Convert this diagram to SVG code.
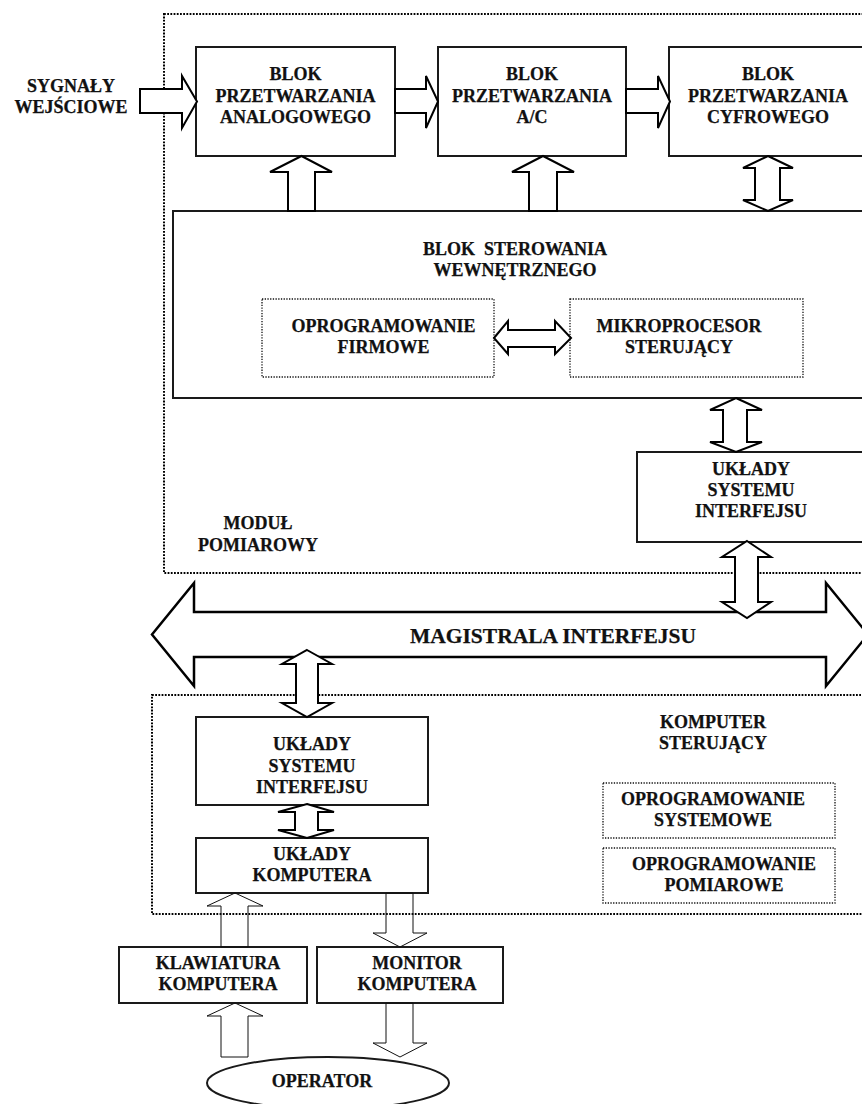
<svg xmlns="http://www.w3.org/2000/svg" width="862" height="1104" viewBox="0 0 862 1104">
  <style>
    .box { fill: #fff; stroke: #1a1a1a; stroke-width: 2; }
    .dot { fill: none; stroke: #000; stroke-width: 2; stroke-dasharray: 1.8 1.4; }
    .dot-in { fill: none; stroke: #111; stroke-width: 1.3; stroke-dasharray: 1.3 1.4; }
    .arr { fill: #fff; stroke: #000; stroke-width: 2; stroke-linejoin: miter; }
    .arr-thin { fill: none; stroke: #111; stroke-width: 1; }
    .bus { fill: #fff; stroke: #000; stroke-width: 2.5; stroke-linejoin: miter; }
    text { font-family: "Liberation Serif", "Times New Roman", serif; font-weight: bold; font-size: 18px; fill: #111; stroke: #111; stroke-width: 0.25; text-anchor: middle; }
    .big { font-size: 21.5px; }
  </style>

  <!-- measurement module frame -->
  <g id="modul-pomiarowy">
    <rect class="dot" x="164" y="14" width="720" height="559"/>
    <text x="258" y="529">MODUŁ</text>
    <text x="258" y="551">POMIAROWY</text>
  </g>

  <!-- controlling computer frame -->
  <g id="komputer-sterujacy">
    <rect class="dot" x="152" y="695" width="730" height="219"/>
    <text x="713" y="728">KOMPUTER</text>
    <text x="713" y="749">STERUJĄCY</text>
  </g>

  <g id="sygnaly">
    <text x="71" y="92">SYGNAŁY</text>
    <text x="71" y="113">WEJŚCIOWE</text>
  </g>

  <g id="blok-analogowy">
    <rect class="box" x="196" y="47" width="199" height="109"/>
    <text x="295.5" y="80">BLOK</text>
    <text x="295.5" y="101.5">PRZETWARZANIA</text>
    <text x="295.5" y="123">ANALOGOWEGO</text>
  </g>

  <g id="blok-ac">
    <rect class="box" x="438" y="47" width="188" height="109"/>
    <text x="532" y="80">BLOK</text>
    <text x="532" y="101.5">PRZETWARZANIA</text>
    <text x="532" y="123">A/C</text>
  </g>

  <g id="blok-cyfrowy">
    <rect class="box" x="669" y="47" width="210" height="109"/>
    <text x="768" y="80">BLOK</text>
    <text x="768" y="101.5">PRZETWARZANIA</text>
    <text x="768" y="123">CYFROWEGO</text>
  </g>

  <g id="blok-sterowania">
    <rect class="box" x="173" y="211" width="710" height="187"/>
    <text x="515" y="255" xml:space="preserve">BLOK  STEROWANIA</text>
    <text x="515" y="276">WEWNĘTRZNEGO</text>
  </g>

  <g id="oprogramowanie-firmowe">
    <rect class="dot-in" x="262" y="299" width="232" height="78"/>
    <text x="383.5" y="332">OPROGRAMOWANIE</text>
    <text x="383.5" y="353">FIRMOWE</text>
  </g>

  <g id="mikroprocesor">
    <rect class="dot-in" x="570" y="299" width="233" height="78"/>
    <text x="679" y="332">MIKROPROCESOR</text>
    <text x="679" y="353">STERUJĄCY</text>
  </g>

  <g id="interfejs-modulu">
    <rect class="box" x="637" y="452" width="240" height="90"/>
    <text x="751" y="475">UKŁADY</text>
    <text x="751" y="496">SYSTEMU</text>
    <text x="751" y="517">INTERFEJSU</text>
  </g>

  <g id="interfejs-komputera">
    <rect class="box" x="196" y="717" width="232" height="88"/>
    <text x="312" y="750">UKŁADY</text>
    <text x="312" y="772">SYSTEMU</text>
    <text x="312" y="793">INTERFEJSU</text>
  </g>

  <g id="uklady-komputera">
    <rect class="box" x="196" y="838" width="232" height="55"/>
    <text x="312" y="860">UKŁADY</text>
    <text x="312" y="881">KOMPUTERA</text>
  </g>

  <g id="oprogramowanie-systemowe">
    <rect class="dot-in" x="603" y="783" width="232" height="55"/>
    <text x="713" y="805">OPROGRAMOWANIE</text>
    <text x="713" y="826">SYSTEMOWE</text>
  </g>

  <g id="oprogramowanie-pomiarowe">
    <rect class="dot-in" x="603" y="848" width="232" height="55"/>
    <text x="724" y="870">OPROGRAMOWANIE</text>
    <text x="724" y="891">POMIAROWE</text>
  </g>

  <g id="klawiatura">
    <rect class="box" x="119" y="947" width="188" height="56"/>
    <text x="218" y="969">KLAWIATURA</text>
    <text x="218" y="990">KOMPUTERA</text>
  </g>

  <g id="monitor">
    <rect class="box" x="317" y="947" width="186" height="56"/>
    <text x="417" y="969">MONITOR</text>
    <text x="417" y="990">KOMPUTERA</text>
  </g>

  <g id="operator">
    <ellipse class="box" cx="328" cy="1083" rx="121" ry="26" stroke-width="1.5"/>
    <text x="322" y="1087">OPERATOR</text>
  </g>

  <!-- block arrows between the units -->
  <g id="connectors">
    <!-- interface bus -->
    <polygon class="bus" points="194,583 194,612 826,612 826,583 868,634.5 826,686 826,657 194,657 194,686 152,634.5"/>
    <text class="big" x="553" y="643">MAGISTRALA INTERFEJSU</text>

    <!-- signal path along the top row -->
    <polygon class="arr" points="140,89 182,89 182,76 197,101.5 182,128 182,113 140,113"/>
    <polygon class="arr" points="395,89 426,89 426,76 438,101.5 426,128 426,113 395,113"/>
    <polygon class="arr" points="626,89 658,89 658,76 670,101.5 658,128 658,113 626,113"/>

    <!-- control block to processing blocks -->
    <polygon class="arr" points="288,211 288,172 270,172 301.5,156 332,172 315,172 315,211"/>
    <polygon class="arr" points="529,211 529,172 512,172 543,156 574,172 557,172 557,211"/>
    <polygon class="arr" points="768,156 793,168 780,168 780,200 793,200 768,211 743,200 755,200 755,168 743,168"/>

    <!-- firmware to microprocessor -->
    <polygon class="arr" stroke-width="1.2" points="494,338 508,321 508,330 555,330 555,321 571,338 555,354 555,347 508,347 508,354"/>

    <!-- control block to module interface -->
    <polygon class="arr" points="736,398 762,410 747,410 747,442 762,442 736,452 710,442 723,442 723,410 710,410"/>

    <!-- module interface to bus -->
    <polygon class="arr" points="747,541 771,557 758,557 758,602 771,602 747,618 722,602 735,602 735,557 722,557"/>

    <!-- bus to computer interface -->
    <polygon class="arr" points="307,650 332,664 318,664 318,703 332,703 307,717 282,703 296,703 296,664 282,664"/>

    <!-- computer interface to computer circuits -->
    <polygon class="arr" points="307,804 334,812 318,812 318,830 334,830 307,838 278,830 295,830 295,812 278,812"/>

    <!-- keyboard, monitor and operator -->
    <polygon class="arr-thin" points="221,947 221,906 207,906 235,893 263,906 248,906 248,947"/>
    <polygon class="arr-thin" points="386,893 386,933 373,933 400,947 427,933 413,933 413,893"/>
    <polygon class="arr-thin" points="221,1057 221,1016 207,1016 235,1003 263,1016 248,1016 248,1057"/>
    <polygon class="arr-thin" points="386,1003 386,1043 373,1043 400,1057 427,1043 413,1043 413,1003"/>
  </g>
</svg>
